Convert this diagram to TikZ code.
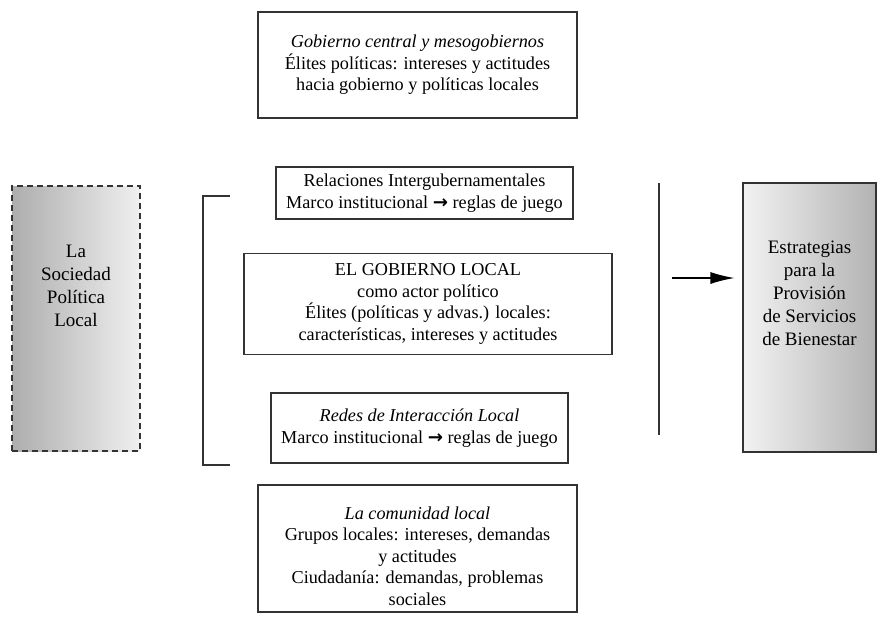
\documentclass[tikz,border=0pt]{standalone}
\usepackage{fontspec}
\setmainfont{Liberation Serif}
\newfontfamily\arrfont{DejaVu Sans}
\usetikzlibrary{arrows.meta}
\newcommand{\flecha}{{\arrfont\bfseries →}}

\begin{document}
\begin{tikzpicture}[
  x=1pt, y=-1pt,
  every node/.style={inner sep=1pt, align=center},
  txt/.style={font=\fontsize{18.2}{21.5}\selectfont},
  bx/.style={txt, draw=black!80, line width=1.2pt, fill=white},
  lft/.style={draw=black!80, line width=1.2pt, dash pattern=on 6pt off 4pt,
              left color=black!32, right color=black!6},
  rgt/.style={draw=black!80, line width=1.2pt,
              left color=black!5, right color=black!30},
  stxt/.style={font=\fontsize{19}{23}\selectfont},
  brk/.style={draw=black!80, line width=1.2pt},
  flw/.style={-{Latex[length=24pt,width=12pt]}, draw=black, line width=1.2pt},
]
  \useasboundingbox (0,0) rectangle (880,616);
  \node[bx, minimum width=319pt, minimum height=106pt] (gob) at (417.5,65)
    {\textit{Gobierno central y mesogobiernos}\\
     Élites políticas: intereses y actitudes\\
     hacia gobierno y políticas locales};
  % side boxes
  \node[lft, minimum width=128pt, minimum height=265pt] (socb) at (76,318.5) {};
  \node[stxt] (soc) at (76,286) {La\\Sociedad\\Política\\Local};
  \node[rgt, minimum width=133pt, minimum height=269pt] (estb) at (809.5,317.5) {};
  \node[stxt] (est) at (809.5,293) {Estrategias\\para la\\Provisión\\de Servicios\\de Bienestar};
  % central column
  \node[bx, minimum width=297pt, minimum height=52pt] (rig) at (424.5,193)
    {Relaciones Intergubernamentales\\
     Marco institucional \flecha{} reglas de juego};
  \node[bx, minimum width=368pt, minimum height=101pt] (glo) at (428,304)
    {EL GOBIERNO LOCAL\\
     como actor político\\
     Élites (políticas y advas.) locales:\\
     características, intereses y actitudes};
  \node[bx, minimum width=297pt, minimum height=70pt] (red) at (419.5,428)
    {\textit{Redes de Interacción Local}\\
     Marco institucional \flecha{} reglas de juego};
  \node[bx, minimum width=319pt, minimum height=127pt] (comb) at (417.5,548.5) {};
  \node[txt] (com) at (417.5,556)
    {\textit{La comunidad local}\\
     Grupos locales: intereses, demandas\\
     y actitudes\\
     Ciudadanía: demandas, problemas\\
     sociales};
  % bracket and bar
  \coordinate (b1) at (230,196);
  \coordinate (b2) at (230,465);
  \draw[brk] (b1) -- ++(-27,0) |- (b2);
  \coordinate (v1) at (659,183);
  \coordinate (v2) at (659,435);
  \draw[brk] (v1) -- (v2);
  \coordinate (a1) at (672,278);
  \draw[flw, shorten >=8pt] (a1) -- (a1 -| estb.west);
\end{tikzpicture}
\end{document}
